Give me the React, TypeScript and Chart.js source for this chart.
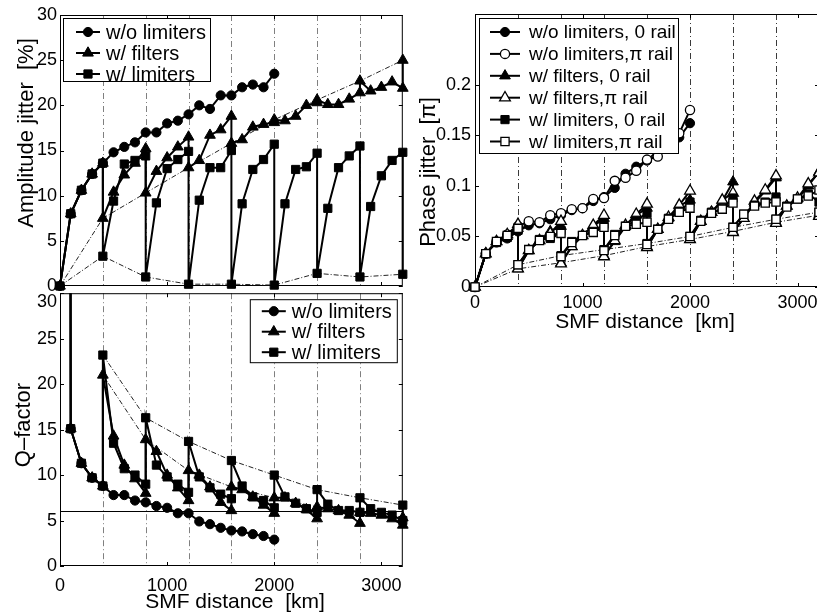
import React, { useEffect, useRef } from 'react';
import { Chart, registerables } from 'chart.js';

Chart.register(...registerables);

const FONT = '"Liberation Sans", Arial, Helvetica, sans-serif';

// ---- distances (km) ----
// uncompensated line, sampled every 100 km
const DIST_PLAIN = [0, 100, 200, 300, 400, 500, 600, 700, 800, 900, 1000, 1100, 1200, 1300, 1400, 1500, 1600, 1700, 1800, 1900, 2000];
// compensated lines: each 400 km stage is listed twice (before / after the in-line device)
const DIST_STAGED = [0, 100, 200, 300, 400, 400, 500, 600, 700, 800, 800, 900, 1000, 1100, 1200, 1200, 1300, 1400, 1500, 1600, 1600,
  1700, 1800, 1900, 2000, 2000, 2100, 2200, 2300, 2400, 2400, 2500, 2600, 2700, 2800, 2800, 2900, 3000, 3100, 3200, 3200];

const STAGE_KM = [400, 800, 1200, 1600, 2000, 2400, 2800];
const X_TICKS = [0, 1000, 2000, 3000];
const PCT_TICKS = [0, 5, 10, 15, 20, 25, 30];
const Q_TICKS = [0, 5, 10, 15, 20, 25, 30];
const PHASE_TICKS = [0, 0.05, 0.1, 0.15, 0.2];
const Q_LIMIT = 6;
// Q is unbounded at 0 km; this value sits far above the axis so only the drop is seen
const Q_UNBOUNDED = 1000;

// ---- amplitude jitter [%] ----
const ampNoLimiter = [0, 8.0, 10.6, 12.4, 13.6, 14.8, 15.4, 15.9, 17.0, 17.0, 18.0, 18.3, 19.0, 20.0, 19.6, 21.1, 21.1, 22.0, 22.3, 22.0, 23.5];
const ampFilters = [0, 8.0, 10.6, 12.4, 13.6, 7.5, 10.4, 12.3, 13.6, 15.2, 10.3, 12.7, 14.2, 15.4, 16.5, 13.1, 13.9, 16.7, 17.3, 18.8, 15.8,
  16.2, 17.6, 17.9, 18.1, 18.4, 18.3, 18.8, 20.0, 20.3, 20.6, 20.1, 20.1, 20.7, 21.4, 22.7, 21.6, 22.0, 22.6, 21.9, 25.0];
const ampLimiters = [0, 8.0, 10.6, 12.4, 13.6, 3.3, 9.4, 13.5, 13.9, 14.4, 1.0, 9.2, 13.0, 14.0, 14.9, 0.2, 9.5, 13.1, 13.1, 15.0, 0.2,
  9.1, 12.9, 14.0, 15.7, 0.1, 9.1, 12.9, 13.2, 14.7, 1.4, 8.6, 13.1, 14.4, 15.5, 1.0, 8.8, 12.2, 13.9, 14.8, 1.3];

// ---- Q-factor ----
const qNoLimiter = [Q_UNBOUNDED, 15.1, 11.3, 9.7, 8.8, 7.8, 7.8, 7.2, 7.0, 6.6, 6.4, 5.8, 5.8, 4.9, 4.6, 4.2, 3.9, 3.8, 3.5, 3.3, 2.9];
const qFilters = [Q_UNBOUNDED, 15.1, 11.3, 9.7, 8.8, 21.0, 14.3, 11.1, 9.6, 8.0, 13.9, 12.6, 10.0, 8.6, 7.2, 10.5, 10.0, 8.7, 7.0, 6.1, 8.7,
  8.4, 7.6, 6.7, 5.8, 7.5, 7.5, 6.9, 6.2, 5.2, 6.5, 6.3, 6.1, 5.6, 4.7, 5.9, 5.8, 5.6, 5.2, 4.5, 5.3];
const qLimiters = [Q_UNBOUNDED, 15.1, 11.3, 9.7, 8.8, 23.2, 13.5, 10.7, 10.0, 9.0, 16.3, 11.1, 9.8, 9.0, 8.1, 13.7, 9.8, 8.6, 7.9, 7.4, 11.6,
  8.8, 7.6, 7.2, 6.4, 10.0, 7.6, 6.9, 6.3, 5.9, 8.4, 6.8, 6.1, 6.1, 5.9, 7.5, 6.3, 5.9, 5.6, 5.0, 6.7];

// ---- phase jitter [pi] ----
const phNoLimZero = [0, 0.033, 0.044, 0.048, 0.055, 0.061, 0.063, 0.067, 0.071, 0.076, 0.078, 0.085, 0.089, 0.098, 0.112, 0.119, 0.125, 0.135, 0.143, 0.148, 0.162];
const phNoLimPi = [0, 0.033, 0.045, 0.052, 0.060, 0.065, 0.064, 0.071, 0.073, 0.077, 0.078, 0.087, 0.088, 0.105, 0.108, 0.115, 0.126, 0.129, 0.140, 0.152, 0.175];
const phFiltZero = [0, 0.033, 0.045, 0.050, 0.058, 0.018, 0.036, 0.046, 0.055, 0.060, 0.024, 0.040, 0.051, 0.060, 0.068, 0.031, 0.045, 0.060, 0.071, 0.078, 0.040,
  0.057, 0.068, 0.080, 0.086, 0.047, 0.065, 0.074, 0.085, 0.104, 0.055, 0.068, 0.083, 0.095, 0.108, 0.064, 0.080, 0.087, 0.100, 0.114, 0.071];
const phFiltPi = [0, 0.033, 0.045, 0.052, 0.062, 0.018, 0.036, 0.046, 0.053, 0.065, 0.023, 0.040, 0.051, 0.061, 0.071, 0.030, 0.046, 0.061, 0.072, 0.082, 0.039,
  0.057, 0.069, 0.081, 0.095, 0.047, 0.065, 0.074, 0.086, 0.093, 0.054, 0.068, 0.085, 0.096, 0.110, 0.063, 0.080, 0.088, 0.102, 0.113, 0.070];
const phLimZero = [0, 0.033, 0.044, 0.049, 0.056, 0.022, 0.037, 0.047, 0.048, 0.056, 0.031, 0.045, 0.051, 0.055, 0.062, 0.037, 0.052, 0.060, 0.066, 0.073, 0.043,
  0.057, 0.068, 0.075, 0.084, 0.050, 0.066, 0.074, 0.077, 0.088, 0.059, 0.072, 0.081, 0.084, 0.089, 0.067, 0.080, 0.087, 0.092, 0.084, 0.074];
const phLimPi = [0, 0.033, 0.045, 0.051, 0.058, 0.022, 0.037, 0.046, 0.050, 0.053, 0.030, 0.044, 0.051, 0.054, 0.059, 0.036, 0.051, 0.060, 0.062, 0.064, 0.042,
  0.057, 0.067, 0.074, 0.078, 0.050, 0.065, 0.073, 0.077, 0.083, 0.059, 0.072, 0.080, 0.083, 0.084, 0.067, 0.079, 0.087, 0.090, 0.096, 0.074];

type Shape = 'circle' | 'triangle' | 'rect';
const MARK_R: Record<Shape, number> = { circle: 4.6, triangle: 6.2, rect: 5.8 };

const pts = (xs: number[], ys: number[]) => xs.map((x, i) => ({ x, y: ys[i] }));

// first point of every compensated section (the value right after each stage device)
function stageStarts(xs: number[], ys: number[], withOrigin: boolean) {
  const out: { x: number; y: number }[] = [];
  xs.forEach((x, i) => {
    if (x % 400 !== 0) return;
    if (x === 0 && !withOrigin) return;
    if (i + 1 < xs.length && xs[i + 1] === x) return;
    out.push({ x, y: ys[i] });
  });
  return out;
}

function series(label: string, data: any[], shape: Shape, filled: boolean, order: number, clip: any) {
  return {
    label, data, order, clip,
    borderColor: '#000', borderWidth: 2, tension: 0, fill: false,
    pointStyle: shape, pointRadius: MARK_R[shape], pointHoverRadius: MARK_R[shape],
    pointBackgroundColor: filled ? '#000' : '#fff', pointBorderColor: '#000',
    pointBorderWidth: filled ? 1 : 1.3,
  };
}

function guide(data: any[], clip: any) {
  return {
    label: '', data, order: 50, clip,
    borderColor: '#222', borderWidth: 1, borderDash: [5, 2, 1, 2],
    pointRadius: 0, pointHoverRadius: 0, tension: 0, fill: false,
  };
}

function drawMarker(ctx: CanvasRenderingContext2D, shape: Shape, x: number, y: number, filled: boolean) {
  const r = MARK_R[shape];
  ctx.beginPath();
  if (shape === 'circle') {
    ctx.arc(x, y, r, 0, Math.PI * 2);
  } else if (shape === 'triangle') {
    for (let k = 0; k < 3; k++) {
      const ang = (k * 2 * Math.PI) / 3;
      const px = x + Math.sin(ang) * r;
      const py = y - Math.cos(ang) * r;
      if (k === 0) ctx.moveTo(px, py); else ctx.lineTo(px, py);
    }
    ctx.closePath();
  } else {
    const s = r * Math.SQRT1_2;
    ctx.rect(x - s, y - s, 2 * s, 2 * s);
  }
  ctx.fillStyle = filled ? '#000' : '#fff';
  ctx.fill();
  ctx.lineWidth = filled ? 1 : 1.3;
  ctx.strokeStyle = '#000';
  ctx.stroke();
}

// axes box, inward ticks, stage markers, reference line, boxed legend and axis titles
const panelDecor = {
  id: 'panelDecor',
  beforeDatasetsDraw(chart: any, _args: any, o: any) {
    const { ctx, chartArea: a } = chart;
    const xs = chart.scales.x;
    const ys = chart.scales.y;
    ctx.save();
    ctx.lineWidth = 1;
    ctx.strokeStyle = o.gridColor;
    ctx.setLineDash([6, 3, 1, 3]);
    for (const km of o.gridKm) {
      const px = Math.round(xs.getPixelForValue(km)) + 0.5;
      ctx.beginPath();
      ctx.moveTo(px, a.top);
      ctx.lineTo(px, a.bottom);
      ctx.stroke();
    }
    ctx.setLineDash([]);
    ctx.strokeStyle = '#000';
    if (o.hLine != null) {
      const py = Math.round(ys.getPixelForValue(o.hLine)) + 0.5;
      ctx.beginPath();
      ctx.moveTo(a.left, py);
      ctx.lineTo(a.right, py);
      ctx.stroke();
    }
    ctx.strokeRect(a.left + 0.5, a.top + 0.5, a.right - a.left - 1, a.bottom - a.top - 1);
    const T = 4;
    ctx.beginPath();
    for (const v of o.xTicks) {
      const px = Math.round(xs.getPixelForValue(v)) + 0.5;
      ctx.moveTo(px, a.bottom);
      ctx.lineTo(px, a.bottom - T);
      ctx.moveTo(px, a.top);
      ctx.lineTo(px, a.top + T);
    }
    for (const v of o.yTicks) {
      const py = Math.round(ys.getPixelForValue(v)) + 0.5;
      ctx.moveTo(a.left, py);
      ctx.lineTo(a.left + T, py);
      ctx.moveTo(a.right, py);
      ctx.lineTo(a.right - T, py);
    }
    ctx.stroke();
    // top tick label set slightly lower so it clears the panel above
    if (o.lowTopLabel != null) {
      ctx.fillStyle = '#000';
      ctx.font = `18px ${FONT}`;
      ctx.textAlign = 'right';
      ctx.textBaseline = 'middle';
      ctx.fillText(String(o.lowTopLabel), a.left - 3, ys.getPixelForValue(o.lowTopLabel) + 9);
    }
    ctx.restore();
  },
  afterDatasetsDraw(chart: any, _args: any, o: any) {
    const { ctx, chartArea: a } = chart;
    ctx.save();
    const L = o.legend;
    if (L) {
      ctx.font = `${L.font}px ${FONT}`;
      const maxW = Math.max(...L.items.map((it: any) => ctx.measureText(it.label).width));
      const w = Math.round(L.textX + maxW + L.padRight);
      const bx = L.right != null ? a.right - L.right - w : a.left + L.left;
      const by = a.top + L.top;
      ctx.fillStyle = '#fff';
      ctx.fillRect(bx, by, w, L.height);
      ctx.strokeStyle = '#000';
      ctx.lineWidth = 1;
      ctx.strokeRect(bx + 0.5, by + 0.5, w - 1, L.height - 1);
      L.items.forEach((it: any, i: number) => {
        const cy = by + L.rowTop + i * L.pitch;
        ctx.strokeStyle = '#000';
        ctx.lineWidth = 2;
        ctx.beginPath();
        ctx.moveTo(bx + L.line[0], cy);
        ctx.lineTo(bx + L.line[1], cy);
        ctx.stroke();
        drawMarker(ctx, it.shape, bx + (L.line[0] + L.line[1]) / 2, cy, it.filled);
        ctx.fillStyle = '#000';
        ctx.textAlign = 'left';
        ctx.textBaseline = 'middle';
        ctx.font = `${L.font}px ${FONT}`;
        ctx.fillText(it.label, bx + L.textX, cy + 1);
      });
    }
    ctx.fillStyle = '#000';
    if (o.yTitle) {
      ctx.save();
      ctx.translate(o.yTitle.x, o.yTitle.y);
      ctx.rotate(-Math.PI / 2);
      ctx.font = `22px ${FONT}`;
      ctx.textAlign = 'center';
      ctx.textBaseline = 'alphabetic';
      ctx.fillText(o.yTitle.text, 0, 0);
      ctx.restore();
    }
    if (o.xTitle) {
      ctx.font = `21px ${FONT}`;
      ctx.textAlign = 'center';
      ctx.textBaseline = 'alphabetic';
      ctx.fillText(o.xTitle.text, o.xTitle.x, o.xTitle.y);
    }
    ctx.restore();
  },
};

const tickFont = { family: FONT, size: 18 };

function xScale(show: boolean, pad: number, h: number) {
  return {
    type: 'linear', min: 0, max: 3200, display: show,
    afterBuildTicks: (s: any) => { s.ticks = X_TICKS.map((v) => ({ value: v })); },
    afterFit: (s: any) => { s.height = h; s.paddingLeft = 0; s.paddingRight = 0; s.paddingTop = 0; s.paddingBottom = 0; },
    grid: { display: false, drawTicks: false },
    border: { display: false },
    ticks: { padding: pad, font: tickFont, color: '#000', autoSkip: false, maxRotation: 0, minRotation: 0, callback: (v: any) => String(v) },
  };
}

function yScale(max: number, ticks: number[], w: number, pad: number, skipLabel?: number) {
  return {
    type: 'linear', min: 0, max,
    afterBuildTicks: (s: any) => { s.ticks = ticks.map((v) => ({ value: v })); },
    afterFit: (s: any) => { s.width = w; s.paddingLeft = 0; s.paddingRight = 0; s.paddingTop = 0; s.paddingBottom = 0; },
    grid: { display: false, drawTicks: false },
    border: { display: false },
    ticks: {
      padding: pad, font: tickFont, color: '#000', autoSkip: false,
      callback: (v: any) => (v === skipLabel ? '' : String(v)),
    },
  };
}

const LEGEND3 = [
  { label: 'w/o limiters', shape: 'circle', filled: true },
  { label: 'w/ filters', shape: 'triangle', filled: true },
  { label: 'w/ limiters', shape: 'rect', filled: true },
];

const LEGEND6 = [
  { label: 'w/o limiters, 0 rail', shape: 'circle', filled: true },
  { label: 'w/o limiters,\u03c0 rail', shape: 'circle', filled: false },
  { label: 'w/ filters, 0 rail', shape: 'triangle', filled: true },
  { label: 'w/ filters,\u03c0 rail', shape: 'triangle', filled: false },
  { label: 'w/ limiters, 0 rail', shape: 'rect', filled: true },
  { label: 'w/ limiters,\u03c0 rail', shape: 'rect', filled: false },
];

const baseOptions = (padding: any, scales: any, decor: any) => ({
  responsive: false,
  animation: false,
  events: [],
  layout: { padding },
  scales,
  plugins: { legend: { display: false }, tooltip: { enabled: false }, panelDecor: decor },
});

function amplitudeConfig() {
  return {
    type: 'line',
    data: {
      datasets: [
        series('w/o limiters', pts(DIST_PLAIN, ampNoLimiter), 'circle', true, 3, false),
        series('w/ filters', pts(DIST_STAGED, ampFilters), 'triangle', true, 2, false),
        series('w/ limiters', pts(DIST_STAGED, ampLimiters), 'rect', true, 1, false),
        guide(stageStarts(DIST_STAGED, ampFilters, true), false),
        guide(stageStarts(DIST_STAGED, ampLimiters, true), false),
      ],
    },
    options: baseOptions(
      { top: 15, right: 6, bottom: 14, left: 0 },
      { x: xScale(false, 0, 0), y: yScale(30, PCT_TICKS, 60, 3) },
      {
        gridKm: STAGE_KM, gridColor: '#808080', xTicks: X_TICKS, yTicks: PCT_TICKS,
        yTitle: { text: 'Amplitude jitter  [%]', x: 33, y: 133 },
        legend: { items: LEGEND3, left: 3, top: 3, rowTop: 14, pitch: 21, height: 64, line: [13, 37], textX: 43, padRight: 5, font: 20 },
      },
    ),
    plugins: [panelDecor],
  };
}

function qConfig() {
  const clipTop = { top: 0, left: false, right: false, bottom: false };
  return {
    type: 'line',
    data: {
      datasets: [
        series('w/o limiters', pts(DIST_PLAIN, qNoLimiter), 'circle', true, 3, clipTop),
        series('w/ filters', pts(DIST_STAGED, qFilters), 'triangle', true, 2, clipTop),
        series('w/ limiters', pts(DIST_STAGED, qLimiters), 'rect', true, 1, clipTop),
        guide(stageStarts(DIST_STAGED, qFilters, false), clipTop),
        guide(stageStarts(DIST_STAGED, qLimiters, false), clipTop),
      ],
    },
    options: baseOptions(
      { top: 6, right: 6, bottom: 0, left: 0 },
      { x: xScale(true, 9, 48), y: yScale(30, Q_TICKS, 60, 3, 30) },
      {
        gridKm: STAGE_KM, gridColor: '#808080', xTicks: X_TICKS, yTicks: Q_TICKS, hLine: Q_LIMIT,
        lowTopLabel: 30,
        yTitle: { text: 'Q\u2013factor', x: 30, y: 139 },
        xTitle: { text: 'SMF distance  [km]', x: 235, y: 322 },
        legend: { items: LEGEND3, right: 5, top: 6, rowTop: 12, pitch: 20.5, height: 64, line: [12, 36], textX: 42, padRight: 6, font: 20 },
      },
    ),
    plugins: [panelDecor],
  };
}

function phaseConfig() {
  return {
    type: 'line',
    data: {
      datasets: [
        series('w/o limiters, 0 rail', pts(DIST_PLAIN, phNoLimZero), 'circle', true, 6, false),
        series('w/o limiters,\u03c0 rail', pts(DIST_PLAIN, phNoLimPi), 'circle', false, 5, false),
        series('w/ filters, 0 rail', pts(DIST_STAGED, phFiltZero), 'triangle', true, 4, false),
        series('w/ filters,\u03c0 rail', pts(DIST_STAGED, phFiltPi), 'triangle', false, 3, false),
        series('w/ limiters, 0 rail', pts(DIST_STAGED, phLimZero), 'rect', true, 2, false),
        series('w/ limiters,\u03c0 rail', pts(DIST_STAGED, phLimPi), 'rect', false, 1, false),
        guide(stageStarts(DIST_STAGED, phFiltZero, true), false),
        guide(stageStarts(DIST_STAGED, phLimZero, true), false),
      ],
    },
    options: baseOptions(
      { top: 14, right: 11, bottom: 0, left: 0 },
      { x: xScale(true, 5, 53), y: yScale(0.27, PHASE_TICKS, 65, 4) },
      {
        gridKm: STAGE_KM, gridColor: '#3a3a3a', xTicks: X_TICKS, yTicks: PHASE_TICKS,
        yTitle: { text: 'Phase jitter  [\u03c0]', x: 25, y: 172 },
        xTitle: { text: 'SMF distance  [km]', x: 235, y: 328 },
        legend: { items: LEGEND6, left: 4, top: 4, rowTop: 14, pitch: 21.9, height: 136, line: [11, 41], textX: 50, padRight: 3, font: 19 },
      },
    ),
    plugins: [panelDecor],
  };
}

function Panel({ make, left, top, width, height }: { make: () => any; left: number; top: number; width: number; height: number }) {
  const ref = useRef<HTMLCanvasElement>(null);
  useEffect(() => {
    const chart = new Chart(ref.current as HTMLCanvasElement, make());
    return () => chart.destroy();
  }, [make]);
  return (
    <canvas
      ref={ref}
      width={width}
      height={height}
      style={{ position: 'absolute', left, top, width, height, display: 'block' }}
    />
  );
}

export default function App() {
  return (
    <div style={{ position: 'absolute', left: 0, top: 0, width: 817, height: 614, overflow: 'hidden', background: '#fff' }}>
      <Panel make={amplitudeConfig} left={0} top={0} width={410} height={300} />
      <Panel make={qConfig} left={0} top={286} width={410} height={328} />
      <Panel make={phaseConfig} left={410} top={0} width={420} height={340} />
    </div>
  );
}
